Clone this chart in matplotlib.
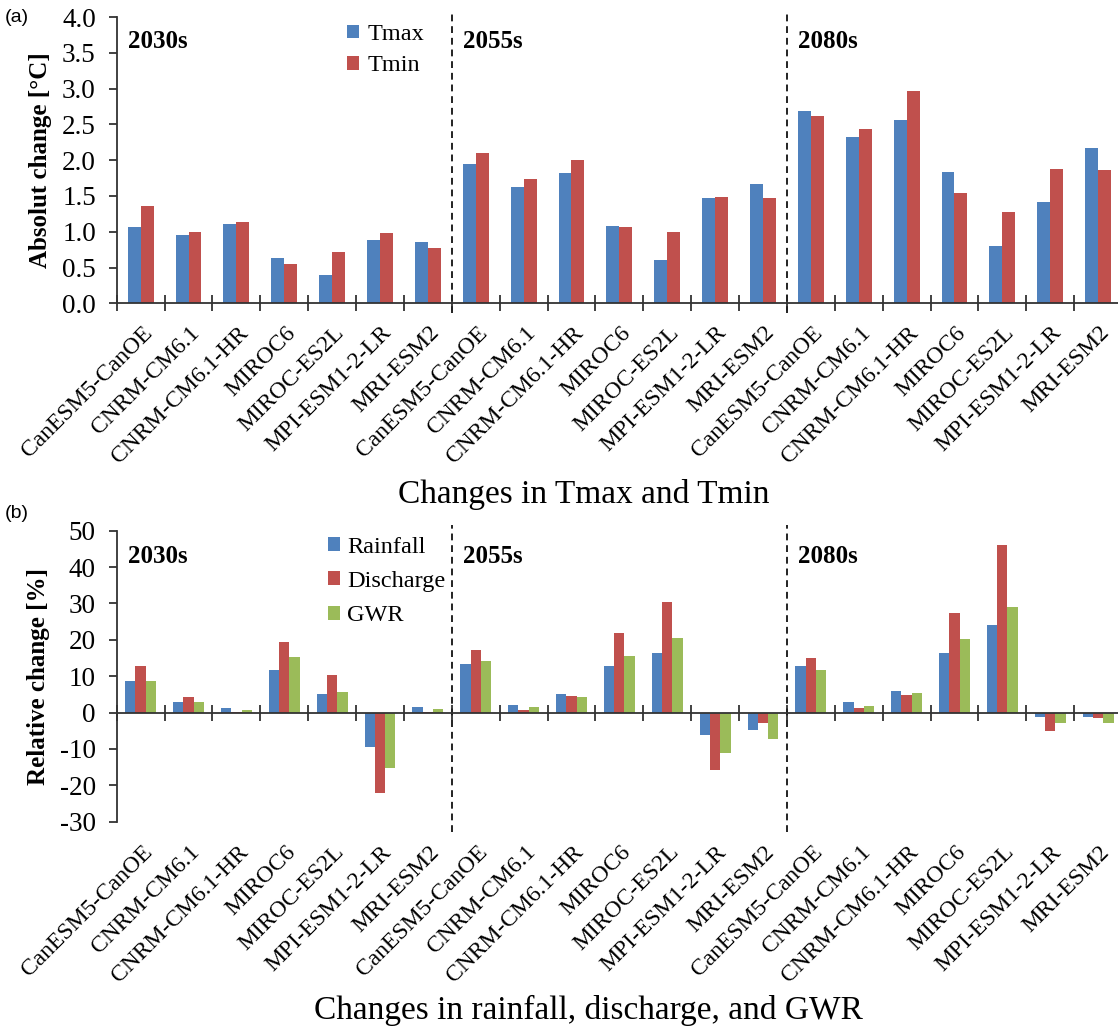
import matplotlib
matplotlib.use("Agg")
import matplotlib.pyplot as plt
import numpy as np
from matplotlib.transforms import blended_transform_factory

plt.rcParams["axes.unicode_minus"] = False

models = ["CanESM5-CanOE", "CNRM-CM6.1", "CNRM-CM6.1-HR", "MIROC6",
          "MIROC-ES2L", "MPI-ESM1-2-LR", "MRI-ESM2"]
periods = ["2030s", "2055s", "2080s"]
categories = models * 3

# Panel (a): absolute change [°C]
tmax = [1.07, 0.95, 1.11, 0.63, 0.40, 0.89, 0.85,
        1.95, 1.62, 1.82, 1.08, 0.60, 1.47, 1.67,
        2.68, 2.33, 2.56, 1.83, 0.80, 1.42, 2.17]
tmin = [1.36, 1.00, 1.14, 0.55, 0.72, 0.98, 0.77,
        2.10, 1.73, 2.00, 1.07, 1.00, 1.49, 1.47,
        2.61, 2.44, 2.97, 1.54, 1.27, 1.87, 1.86]

# Panel (b): relative change [%]
rainfall = [8.8, 2.8, 1.3, 11.8, 5.0, -9.6, 1.6,
            13.4, 2.1, 5.0, 12.7, 16.4, -6.3, -4.8,
            12.9, 2.8, 5.9, 16.4, 24.0, -1.3, -1.3]
discharge = [12.7, 4.4, 0.1, 19.3, 10.2, -22.0, 0.1,
             17.1, 0.6, 4.6, 21.8, 30.3, -15.7, -2.9,
             15.1, 1.3, 4.9, 27.5, 46.0, -5.0, -1.5]
gwr = [8.8, 2.9, 0.8, 15.2, 5.7, -15.2, 1.1,
       14.1, 1.5, 4.3, 15.5, 20.4, -11.2, -7.4,
       11.8, 1.8, 5.3, 20.2, 29.0, -2.9, -2.9]

BLUE = "#4F81BD"
RED = "#C0504D"
GREEN = "#9BBB59"
SERIF = "Liberation Serif"
FS = 18
XFS = 17

W, H = 1118, 1030
fig = plt.figure(figsize=(W / 100, H / 100), dpi=100)

left = 116.7 / W
width = (1122 - 116.7) / W


def frac_y(top_px, bottom_px):
    return 1 - bottom_px / H, (bottom_px - top_px) / H


b_a, h_a = frac_y(17, 303.3)
b_b, h_b = frac_y(530.7, 821.7)
ax_a = fig.add_axes([left, b_a, width, h_a])
ax_b = fig.add_axes([left, b_b, width, h_b])

x = np.arange(len(categories))

# ---- panel (a)
bw = 0.27
ax_a.bar(x - bw / 2, tmax, bw, color=BLUE, label="Tmax")
ax_a.bar(x + bw / 2, tmin, bw, color=RED, label="Tmin")
ax_a.set_ylim(0, 4.0)
ax_a.set_yticks(np.arange(0, 4.01, 0.5))
ax_a.set_yticklabels([f"{v:.1f}" for v in np.arange(0, 4.01, 0.5)])
ax_a.set_ylabel("Absolut change [°C]", fontsize=FS, fontweight="bold",
                family=SERIF, labelpad=7)

# ---- panel (b)
bw3 = 0.215
ax_b.bar(x - bw3, rainfall, bw3, color=BLUE, label="Rainfall")
ax_b.bar(x, discharge, bw3, color=RED, label="Discharge")
ax_b.bar(x + bw3, gwr, bw3, color=GREEN, label="GWR")
ax_b.set_ylim(-30, 50)
ax_b.set_yticks(np.arange(-30, 51, 10))
ax_b.set_yticklabels([str(v) for v in np.arange(-30, 51, 10)])
ax_b.set_ylabel("Relative change [%]", fontsize=FS, fontweight="bold",
                family=SERIF, labelpad=7)
ax_b.spines["bottom"].set_position(("data", 0))

for ax, label_y_px, period_y in ((ax_a, 19, 3.66), (ax_b, 20, 43.0)):
    ax.set_xlim(-0.5, len(categories) - 0.5)
    for s in ("top", "right"):
        ax.spines[s].set_visible(False)
    for s in ("left", "bottom"):
        ax.spines[s].set_color("#333333")
        ax.spines[s].set_linewidth(1.3)
    ax.set_xticks(np.arange(-0.5, len(categories), 1.0))
    ax.set_xticklabels([])
    ax.tick_params(axis="x", direction="inout", length=12, width=1.3,
                   color="#333333")
    ax.tick_params(axis="y", direction="out", length=6, width=1.3,
                   color="#333333", labelsize=19.5, pad=9)
    for lab in ax.get_yticklabels():
        lab.set_family(SERIF)
    # category labels below the plot area
    trans = blended_transform_factory(ax.transData, ax.transAxes)
    yoff = -label_y_px / (ax.get_position().height * H)
    for i, c in enumerate(categories):
        ax.text(i + 0.02, yoff, c, rotation=45, ha="right", va="top",
                rotation_mode="anchor", fontsize=XFS, family=SERIF,
                transform=trans)
    # period separators
    for xb in (6.5, 13.5):
        ax.axvline(xb, ymin=-0.035, ymax=1.02, color="#222222",
                   linestyle=(0, (3.5, 2.5)), linewidth=1.4, clip_on=False)
    for p, xs in zip(periods, (-0.27, 6.73, 13.73)):
        ax.text(xs, period_y, p, fontsize=FS, fontweight="bold",
                family=SERIF, ha="left", va="center")

leg_a = ax_a.legend(loc="upper left", bbox_to_anchor=(0.229, 0.975),
                    frameon=False, prop={"family": SERIF, "size": 17.5},
                    handlelength=0.5, handleheight=0.5, handletextpad=0.35,
                    labelspacing=0.42, borderpad=0, borderaxespad=0)
leg_b = ax_b.legend(loc="upper left", bbox_to_anchor=(0.210, 0.98),
                    frameon=False, prop={"family": SERIF, "size": 17.5},
                    handlelength=0.5, handleheight=0.5, handletextpad=0.3,
                    labelspacing=0.55, borderpad=0, borderaxespad=0)

fig.text(584 / W, 1 - 495 / H, "Changes in Tmax and Tmin", fontsize=24,
         family=SERIF, ha="center", va="center")
fig.text(588 / W, 1 - 1010 / H, "Changes in rainfall, discharge, and GWR",
         fontsize=24, family=SERIF, ha="center", va="center")
fig.text(5 / W, 1 - 18 / H, "(a)", fontsize=14, family="Liberation Sans",
         ha="left", va="center")
fig.text(5 / W, 1 - 513 / H, "(b)", fontsize=14, family="Liberation Sans",
         ha="left", va="center")

fig.savefig("out.png", dpi=100, facecolor="white")
